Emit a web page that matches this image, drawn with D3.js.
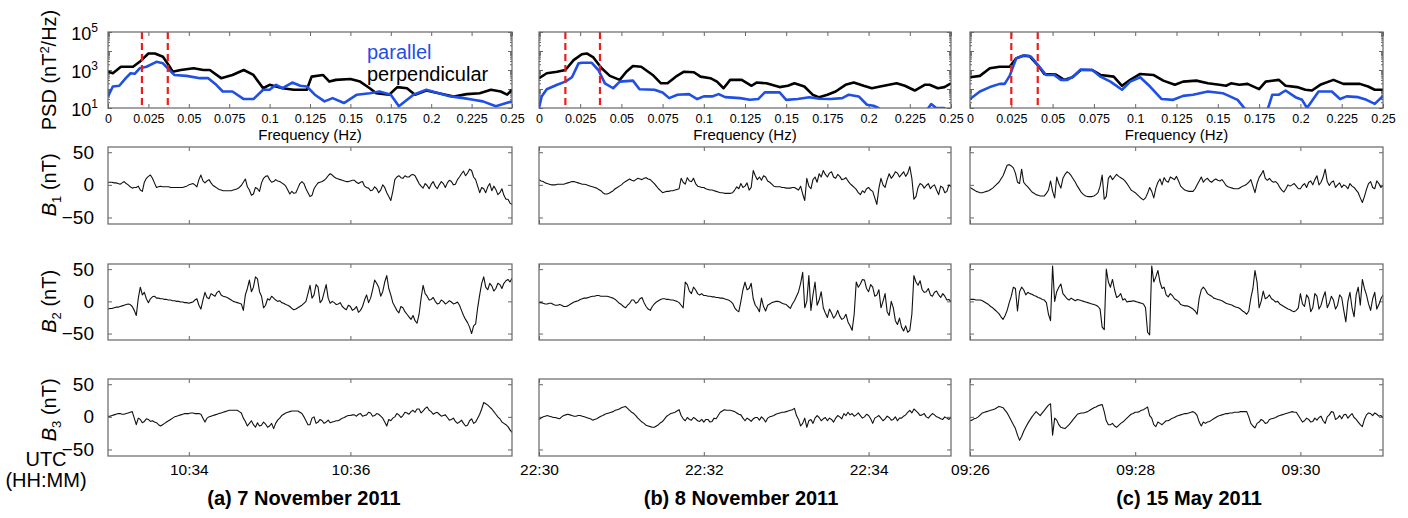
<!DOCTYPE html>
<html>
<head>
<meta charset="utf-8">
<script src="https://cdn.jsdelivr.net/npm/d3@7"></script>
<style>
  body { margin: 0; background: #fff; }
  text { font-family: "Liberation Sans", Arial, Helvetica, sans-serif; }
</style>
</head>
<body>
<div id="chart-area"></div>
<script>
// ---------- data ----------
let panelTitles = ["(a) 7 November 2011", "(b) 8 November 2011", "(c) 15 May 2011"];
let startTimes = ["2011-11-07T10:33:00Z", "2011-11-08T22:30:00Z", "2011-05-15T09:26:00Z"];
let timeTickLabels = [["10:34", "10:36"], ["22:30", "22:32", "22:34"], ["09:26", "09:28", "09:30"]];
let sampleStep = 1.5; // seconds between samples

let freqTicks = [0, 0.025, 0.05, 0.075, 0.1, 0.125, 0.15, 0.175, 0.2, 0.225, 0.25];
let psdTickExps = [1, 3, 5];
let bTicks = [-50, 0, 50];

// band edges (Hz), red dashed lines
let bandA = [0.021, 0.037];
let bandB = [0.016, 0.037];
let bandC = [0.025, 0.041];

// PSD, log10 of nT^2/Hz
let perpFreqA = [0,0.003,0.008,0.0155,0.0196,0.025,0.029,0.034,0.038,0.040,0.045,0.053,0.059,0.063,0.070,0.077,0.084,0.090,0.096,0.100,0.108,0.115,0.123,0.126,0.133,0.137,0.141,0.150,0.156,0.162,0.166,0.174,0.179,0.185,0.190,0.197,0.206,0.214,0.222,0.230,0.237,0.243,0.247,0.25];
let perpLogA = [2.91,2.83,3.17,3.17,3.43,3.87,3.87,3.70,3.2,2.91,3.0,3.09,3.0,3.0,2.57,2.74,3.0,2.74,2.04,2.22,2.04,1.96,1.96,2.65,2.74,2.39,2.48,2.53,2.39,2.04,1.78,1.70,2.1,2.04,1.70,1.92,1.75,1.61,1.73,1.78,1.96,1.87,1.70,1.96];
let parFreqA = [0,0.003,0.007,0.011,0.014,0.0165,0.0196,0.0238,0.030,0.034,0.038,0.041,0.0486,0.057,0.062,0.067,0.071,0.077,0.084,0.090,0.096,0.100,0.104,0.108,0.114,0.119,0.123,0.128,0.134,0.139,0.146,0.154,0.162,0.168,0.175,0.180,0.189,0.197,0.203,0.212,0.220,0.226,0.232,0.240,0.245,0.25];
let parLogA = [1.61,2.13,2.17,2.57,2.83,2.80,3.09,3.17,3.43,3.35,3.0,2.74,2.69,2.57,2.57,2.22,1.87,1.87,1.47,1.47,1.96,1.96,2.22,2.04,2.34,2.17,2.13,1.70,1.35,1.52,1.26,1.70,1.78,1.87,1.70,1.09,1.70,1.96,1.82,1.61,1.52,1.43,1.35,1.09,1.22,1.35];

let perpFreqB = [0,0.0047,0.011,0.016,0.021,0.026,0.029,0.033,0.038,0.043,0.049,0.053,0.057,0.062,0.069,0.074,0.078,0.083,0.088,0.094,0.098,0.104,0.108,0.112,0.116,0.123,0.129,0.132,0.138,0.146,0.151,0.155,0.161,0.166,0.170,0.175,0.180,0.186,0.191,0.197,0.202,0.207,0.217,0.222,0.228,0.234,0.237,0.242,0.246,0.25];
let perpLogB = [2.57,2.83,2.91,3.0,3.52,3.83,3.87,3.66,3.09,2.69,2.48,2.91,3.21,3.17,2.74,2.30,2.30,2.65,2.91,2.88,2.65,2.57,2.39,2.04,2.48,2.48,2.17,2.34,2.30,2.10,2.17,2.30,2.13,1.70,1.56,1.70,1.87,2.22,2.34,2.17,2.04,2.13,2.30,2.17,1.92,2.22,2.22,2.04,2.1,2.30];
let parFreqB = [0,0.0016,0.0047,0.011,0.016,0.020,0.024,0.026,0.032,0.036,0.040,0.045,0.049,0.057,0.061,0.070,0.075,0.079,0.084,0.091,0.096,0.100,0.105,0.109,0.113,0.122,0.128,0.133,0.137,0.146,0.150,0.157,0.164,0.170,0.177,0.184,0.188,0.194,0.199,0.203,0.206,0.210,0.233,0.238,0.241,0.246,0.250];
let parLogB = [1.0,1.61,1.99,2.22,2.39,2.62,3.35,3.38,3.38,3.0,2.30,2.04,2.39,2.44,1.99,1.96,1.82,1.52,1.70,1.73,1.47,1.61,1.61,1.73,1.57,1.52,1.43,1.47,1.82,1.82,1.43,1.47,1.57,1.49,1.47,1.52,1.70,1.61,1.17,1.12,1.0,0.6,0.6,1.21,1.0,1.0,0.6];

let perpFreqC = [0,0.006,0.012,0.018,0.024,0.028,0.032,0.036,0.041,0.045,0.052,0.057,0.062,0.067,0.074,0.079,0.087,0.092,0.097,0.103,0.111,0.117,0.124,0.129,0.137,0.144,0.151,0.155,0.158,0.163,0.168,0.175,0.179,0.187,0.191,0.198,0.203,0.207,0.212,0.220,0.226,0.236,0.241,0.245,0.25];
let perpLogC = [2.62,2.69,3.09,3.17,3.17,3.61,3.75,3.73,3.26,2.79,2.76,2.48,2.62,3.0,3.0,2.74,2.65,2.17,2.48,2.79,2.74,2.44,2.22,2.39,2.44,2.30,2.22,2.17,2.30,2.22,2.27,1.99,2.39,2.48,2.17,2.10,1.96,1.92,2.22,2.48,2.27,2.27,2.13,1.96,1.96];
let parFreqC = [0,0.006,0.012,0.018,0.021,0.024,0.028,0.033,0.037,0.042,0.046,0.051,0.055,0.059,0.063,0.067,0.074,0.079,0.085,0.092,0.097,0.103,0.109,0.116,0.123,0.129,0.135,0.144,0.153,0.162,0.166,0.172,0.179,0.183,0.187,0.191,0.197,0.201,0.204,0.211,0.219,0.224,0.228,0.235,0.240,0.245,0.25];
let parLogC = [1.47,1.87,2.10,2.27,2.27,2.69,3.61,3.78,3.70,3.17,2.74,2.74,2.48,2.48,2.69,3.03,3.0,2.65,2.39,1.96,2.39,2.62,2.13,1.47,1.43,1.64,1.70,1.87,1.78,1.43,1.0,0.5,0.6,1.70,1.70,1.92,1.57,1.43,1.0,1.87,1.87,1.47,1.61,1.57,1.43,1.22,1.64];

// magnetic field components (nT), one sample every 1.5 s, 5 minutes per panel
let b1A = [4,4,4,3,3,2,1,3,5,2,0,-3,-5,-4,-4,-2,-8,-10,4,10,
  13,15,10,3,-4,-3,-2,-3,-3,-3,-3,-4,-4,-4,-4,-4,-4,-4,-3,-2,
  0,1,2,0,-3,8,15,6,3,6,8,3,-1,-3,-5,-7,-8,-9,-9,-9,
  -9,-9,-8,-7,-6,-4,-1,4,9,-3,-8,-16,-14,-4,-6,-10,3,10,13,14,
  8,4,5,8,6,5,3,1,-2,-8,-14,-10,-13,-12,-5,2,5,2,-6,-12,
  -18,-16,-6,-1,3,4,5,7,10,14,17,15,12,10,9,8,7,6,5,5,
  6,7,7,4,2,4,5,-2,-4,-5,-9,-8,-3,-6,-12,-8,0,-4,-12,-18,
  -24,-10,8,12,14,11,10,14,12,12,15,16,14,8,2,-2,-5,2,-1,-6,
  1,5,-2,-6,0,5,2,-4,3,7,5,0,1,8,12,17,21,14,18,24,
  22,12,8,-2,-12,-4,-6,-12,-3,2,-9,-2,-7,-15,-12,-6,-16,-22,-22,-28,
  -30];
let b2A = [-12,-11,-11,-10,-9,-9,-8,-7,-6,-5,-4,-5,-8,-14,-22,5,22,10,14,4,
  -2,4,7,8,5,5,4,4,3,3,2,2,1,1,0,0,-1,-1,-2,-2,
  -3,-2,-1,2,4,-6,-12,2,14,6,4,12,10,8,14,16,10,8,7,6,
  4,2,0,-1,-2,-3,-4,-14,10,20,33,15,22,38,35,15,8,-10,-6,4,
  2,8,5,2,0,1,-2,-3,-5,-6,-8,-11,-13,-12,-10,-8,-6,-3,0,12,
  25,5,10,26,22,-2,2,14,26,5,-3,0,-2,-5,-4,-2,-8,-11,-13,-6,
  -8,-14,-12,-8,-17,-14,-8,2,10,-2,5,18,33,28,22,8,15,30,40,20,
  10,-2,-8,-14,-18,-8,-10,-16,-20,-24,-28,-22,-30,-34,-20,5,25,12,8,2,
  3,6,0,-4,-3,2,0,-4,-2,1,-1,-4,-3,-1,-6,-14,-22,-28,-33,-40,
  -50,-38,-35,-10,10,28,38,22,18,28,24,16,20,28,26,20,28,32,34,30,
  36];
let b3A = [1,1,2,3,4,5,5,4,4,5,6,7,8,-2,-12,-2,-4,-9,-7,-3,
  -4,-7,-6,-8,-9,-12,-14,-12,-10,-8,-6,-4,-2,0,1,2,3,4,5,5,
  5,6,6,5,5,5,4,-2,-8,-2,0,1,2,3,4,5,6,7,8,9,
  10,10,10,10,10,8,6,-2,-7,-14,-10,-6,-12,-16,-9,-14,-13,-8,-11,-16,
  -14,-10,-18,-10,-5,-2,2,4,6,7,8,9,9,9,9,7,5,0,-6,-12,
  -12,-2,0,-10,-8,-4,-6,-10,-8,-5,-9,-8,-7,-6,-6,-4,-2,-1,1,2,
  2,3,3,1,4,5,1,2,3,7,6,1,2,5,4,1,-2,-8,-14,-4,
  -6,-2,0,5,3,-1,2,7,6,4,8,10,7,12,12,6,9,13,15,10,
  8,4,6,7,4,1,2,3,-1,-5,-4,-2,-7,-10,-8,-5,-10,-14,-13,-6,
  -3,-10,-8,-2,4,12,22,20,18,15,12,8,4,0,-3,-8,-10,-12,-15,-20,
  -24];

let b1B = [8,6,5,3,2,1,0,0,0,1,1,1,1,2,3,4,5,5,4,3,
  2,1,1,0,-1,-2,-3,-4,-5,-7,-9,-12,-14,-14,-13,-11,-9,-6,-4,-2,
  0,3,5,7,9,7,6,8,10,9,8,10,11,9,8,5,2,-2,-6,-9,
  -12,-11,-10,-10,-9,-9,-8,-7,-6,10,4,1,11,6,5,10,2,-2,-3,-4,
  -4,-6,-7,-8,-8,-9,-10,-11,-12,-12,-13,-13,-13,-13,-12,-8,-3,-6,2,-4,
  -2,3,-8,-4,22,14,8,12,7,14,12,6,4,1,-2,-3,-3,-3,-4,-4,
  -5,-5,-5,-4,-4,-6,-8,-2,-14,-24,10,-2,-6,8,12,4,17,12,22,16,
  12,18,20,12,10,16,13,8,9,11,6,2,-1,-4,-7,-12,-15,-9,-12,-6,
  -4,-8,-10,-20,-30,-5,10,0,-4,8,17,10,14,20,18,12,16,20,13,18,
  28,10,-22,-18,-4,2,0,-5,-1,2,-6,-2,0,-8,-15,-2,-4,-12,-10,0,
  -3];
let b2B = [-2,-2,-3,-4,-4,-3,-3,-5,-6,-6,-5,-6,-8,-8,-7,-5,-3,-1,0,1,
  3,4,5,5,6,7,8,8,9,9,8,8,8,8,7,6,5,3,0,-3,
  -5,-8,-10,-6,-3,2,2,-3,-1,4,6,-2,-8,-12,-14,-8,-4,-1,1,3,
  4,4,3,3,2,2,1,0,-2,-6,-10,30,26,16,12,22,18,12,10,12,
  9,9,8,8,7,7,6,6,5,5,4,3,2,0,-3,-10,-14,-16,0,18,
  30,18,20,28,4,-6,-10,-16,5,-8,-15,-6,-4,-2,-1,0,0,-1,-3,-4,
  -5,-8,-11,-4,1,8,15,28,45,-10,0,40,-14,10,30,-6,2,15,-10,-18,
  -25,-12,-18,-26,-22,-14,-23,-28,-26,-20,-32,-38,-45,-20,30,22,27,34,33,20,
  15,26,22,8,10,18,-10,0,12,-16,-22,0,-10,-30,-36,-26,-40,-46,-38,-48,
  -45,-20,40,30,25,32,18,14,15,20,10,8,14,16,10,6,12,8,2,3,
  -1];
let b3B = [-4,-2,0,1,2,1,0,-1,-1,-2,-3,0,2,3,4,3,2,1,1,2,
  2,1,0,-1,-2,-3,-5,-4,-3,-1,1,2,4,5,6,7,8,10,11,12,
  14,15,16,13,10,7,5,2,-2,-5,-8,-10,-13,-14,-15,-16,-16,-14,-12,-9,
  -7,-3,1,3,5,6,7,9,11,2,-3,-6,-1,-4,-5,-1,-3,-6,-7,-4,
  -8,-4,-4,-8,-7,-2,-3,2,7,9,11,10,10,10,9,8,6,4,3,-2,
  -6,-2,-4,-7,-3,-1,-1,-5,0,-3,-8,-2,0,1,2,4,5,6,7,7,
  8,9,10,11,13,2,-4,-14,-10,-2,-16,-6,-4,-10,-2,2,-1,-6,-3,-1,
  -6,-2,-4,-8,-2,2,0,-3,5,2,7,3,5,1,3,6,2,-2,0,4,
  2,-3,-10,-2,0,2,-2,-6,-3,1,-1,-5,-4,0,-6,-2,-2,1,3,7,
  10,6,12,9,6,2,3,5,0,-2,2,5,3,0,-1,-3,-4,0,-2,-4,
  -1];

let b1C = [-4,-6,-8,-10,-11,-12,-12,-11,-10,-9,-7,-5,-2,1,4,9,14,22,30,31,
  29,26,18,4,2,24,4,0,-3,-7,-11,-13,-15,-16,-17,-17,-17,-13,-8,6,
  -10,-20,12,2,-5,10,16,20,18,14,9,4,-2,-7,-12,-15,-17,-18,-18,-18,
  -17,-15,-12,-2,15,-22,-18,10,14,8,12,16,13,11,9,6,2,-3,-8,-10,
  -12,-15,-18,-21,-23,-20,-13,-4,-10,-20,-5,4,9,0,11,6,4,12,10,8,
  13,6,-2,-5,-8,-9,-10,-10,-10,-6,0,6,12,4,8,10,6,4,7,9,
  7,6,8,4,-1,-3,-4,-5,-6,-6,-6,-4,-2,-1,1,4,8,-2,-12,2,
  11,16,22,10,7,10,6,4,5,2,-4,-8,-11,-6,0,-2,0,2,-2,-6,
  -6,-1,2,-4,4,6,0,8,14,0,4,12,24,5,-1,4,6,-4,0,3,
  -4,0,-2,-6,2,-2,-4,-8,-12,-20,-27,-18,-7,2,5,-4,-6,6,2,-4,
  -1];
let b2C = [3,3,3,2,2,2,1,-1,-3,-5,-8,-10,-13,-16,-19,-24,-28,-22,-14,-2,
  8,22,20,-15,15,22,18,10,14,12,11,9,8,6,5,3,2,-2,-20,-30,
  55,0,15,22,27,12,8,4,2,5,3,1,3,2,1,0,-1,-2,-3,-4,
  -5,-6,-8,-12,-40,-44,50,30,22,34,18,6,8,12,2,4,-1,0,0,1,
  0,-1,-2,-3,-4,-10,-48,-52,55,30,38,48,30,20,22,10,7,12,9,4,
  2,0,-5,-6,-7,-7,-8,-10,-12,-15,-20,5,18,22,18,12,10,8,5,4,
  3,2,1,-1,-3,-4,-5,-6,-8,-9,-10,-12,-15,-17,-20,-15,5,20,48,30,
  -10,0,16,4,6,10,4,2,-1,0,-4,-6,-8,-10,-12,-13,-15,-16,-14,-10,
  12,-4,-8,10,5,-16,-10,12,8,-12,-6,6,15,-10,-3,8,2,-12,-6,10,
  6,-14,-32,0,14,-10,-24,10,22,-6,34,20,10,-4,-14,4,14,-12,-5,4,
  10];
let b3C = [-6,-5,-3,-2,0,3,6,7,8,9,10,11,12,14,16,15,14,10,6,0,
  -6,-12,-18,-28,-36,-30,-22,-16,-10,-5,0,4,8,5,2,6,10,14,18,20,
  -28,-2,-5,-12,-16,-17,-18,-15,-12,-8,-4,0,4,5,6,6,7,8,10,12,
  14,15,17,18,19,8,-6,-12,-12,-10,-14,-16,-13,-10,-8,-5,-2,1,4,5,
  7,7,8,10,11,13,15,2,-2,-12,-15,-8,-10,-12,-9,-6,-6,-4,-2,-1,
  1,2,3,4,5,5,6,7,8,6,2,-8,-14,-8,-10,-8,-7,-5,-3,-1,
  1,2,3,4,5,5,6,6,7,7,7,8,8,8,8,0,-10,-14,-17,-10,
  -8,-4,-6,-10,-9,-4,-3,-2,-1,1,2,3,4,5,6,7,8,7,7,2,
  -3,-8,-6,-2,-4,-8,-7,-2,-5,-1,1,-6,-10,0,3,8,7,-4,-2,2,
  -3,3,4,-2,2,5,-1,-4,-8,-12,-15,-4,3,6,5,2,6,4,1,2,
  -1];

// ---------- layout ----------
let width = 1408, height = 518;
let colX = [[108, 512], [539, 951], [970, 1383]];
let psdRow = [32, 108];
let bRows = [[147, 224], [264, 340], [379, 456]];
let bLabelShift = [0, 0, -7];
let titleX = [304, 741, 1189];
let frameColor = "#666";
let blue = "#1f4fe6";

let columns = [
  { perp: [perpFreqA, perpLogA], par: [parFreqA, parLogA], band: bandA, b: [b1A, b2A, b3A] },
  { perp: [perpFreqB, perpLogB], par: [parFreqB, parLogB], band: bandB, b: [b1B, b2B, b3B] },
  { perp: [perpFreqC, perpLogC], par: [parFreqC, parLogC], band: bandC, b: [b1C, b2C, b3C] }
];

let svg = d3.select("#chart-area")
  .append("svg")
    .attr("width", width)
    .attr("height", height);

svg.append("rect").attr("width", width).attr("height", height).attr("fill", "#fff");
let defs = svg.append("defs");

function styleAxis(g, fontSize) {
  g.select(".domain").remove();
  g.selectAll(".tick line").attr("stroke", frameColor);
  g.selectAll(".tick text").attr("fill", "#000").attr("font-size", fontSize);
}

function addClip(id, x0, x1, y0, y1) {
  defs.append("clipPath").attr("id", id)
    .append("rect").attr("x", x0).attr("y", y0).attr("width", x1 - x0).attr("height", y1 - y0);
}

function frame(x0, x1, y0, y1) {
  svg.append("rect")
    .attr("x", x0).attr("y", y0)
    .attr("width", x1 - x0).attr("height", y1 - y0)
    .attr("fill", "none")
    .attr("stroke", frameColor)
    .attr("stroke-width", 1.2);
}

// ---------- PSD panels ----------
function psdPanel(col, ci) {
  let x0 = colX[ci][0], x1 = colX[ci][1];
  let x = d3.scaleLinear().domain([0, 0.25]).range([x0, x1]);
  let y = d3.scaleLog().domain([10, 1e5]).range([psdRow[1], psdRow[0]]);

  let clipId = "clip-psd-" + ci;
  addClip(clipId, x0, x1, psdRow[0], psdRow[1]);

  // axes (inward ticks on all four sides)
  let xb = svg.append("g").attr("transform", "translate(0," + psdRow[1] + ")")
    .call(d3.axisBottom(x).tickValues(freqTicks).tickSize(-4).tickPadding(6)
      .tickFormat(d => String(+d.toFixed(3))));
  styleAxis(xb, "12.5px");
  let xt = svg.append("g").attr("transform", "translate(0," + psdRow[0] + ")")
    .call(d3.axisTop(x).tickValues(freqTicks).tickSize(-4).tickFormat(""));
  styleAxis(xt);

  let decades = psdTickExps.concat([2, 4]).map(e => Math.pow(10, e));
  let minor = y.ticks().filter(v => decades.indexOf(v) < 0);
  [[d3.axisLeft, x0], [d3.axisRight, x1]].forEach(function(a) {
    let gm = svg.append("g").attr("transform", "translate(" + a[1] + ",0)")
      .call(a[0](y).tickValues(decades).tickSize(-4).tickFormat(""));
    styleAxis(gm);
    let gn = svg.append("g").attr("transform", "translate(" + a[1] + ",0)")
      .call(a[0](y).tickValues(minor).tickSize(-2).tickFormat(""));
    styleAxis(gn);
  });

  svg.append("text")
    .attr("x", x(0.125)).attr("y", 140)
    .attr("text-anchor", "middle")
    .attr("font-size", "15px")
    .text("Frequency (Hz)");

  let line = d3.line()
    .x(d => x(d[0]))
    .y(d => y(Math.pow(10, d[1])));

  let gl = svg.append("g").attr("clip-path", "url(#" + clipId + ")");
  gl.append("path")
    .datum(d3.zip(col.perp[0], col.perp[1]))
    .attr("d", line).attr("fill", "none")
    .attr("stroke", "#000").attr("stroke-width", 2.6).attr("stroke-linejoin", "round");
  gl.append("path")
    .datum(d3.zip(col.par[0], col.par[1]))
    .attr("d", line).attr("fill", "none")
    .attr("stroke", blue).attr("stroke-width", 2.6).attr("stroke-linejoin", "round");

  gl.selectAll(".band")
    .data(col.band)
    .enter()
    .append("line")
    .attr("class", "band")
    .attr("x1", d => x(d)).attr("x2", d => x(d))
    .attr("y1", psdRow[0]).attr("y2", psdRow[1])
    .attr("stroke", "#ee1c1c").attr("stroke-width", 2.2)
    .attr("stroke-dasharray", "7,4");

  frame(x0, x1, psdRow[0], psdRow[1]);

  if (ci === 0) {
    psdTickExps.forEach(function(e) {
      let t = svg.append("text")
        .attr("x", x0 - 10).attr("y", y(Math.pow(10, e)) + 8)
        .attr("text-anchor", "end")
        .attr("font-size", "18px");
      t.append("tspan").text("10");
      t.append("tspan").attr("font-size", "12px").attr("dy", -8).text(e);
    });

    // legend
    svg.append("text").attr("x", 367).attr("y", 59)
      .attr("font-size", "20px").attr("fill", blue).text("parallel");
    svg.append("text").attr("x", 367).attr("y", 81)
      .attr("font-size", "20px").attr("fill", "#000").text("perpendicular");
  }
}

// ---------- field component panels ----------
function bPanel(values, ci, ri) {
  let x0 = colX[ci][0], x1 = colX[ci][1];
  let yr = bRows[ri];
  let start = new Date(startTimes[ci]);
  let day = startTimes[ci].slice(0, 11);
  let x = d3.scaleUtc().domain([start, d3.utcMinute.offset(start, 5)]).range([x0, x1]);
  let y = d3.scaleLinear().domain([-60, 58]).range([yr[1], yr[0]]);
  let tickDates = timeTickLabels[ci].map(s => new Date(day + s + ":00Z"));

  let clipId = "clip-b-" + ci + "-" + ri;
  addClip(clipId, x0, x1, yr[0], yr[1]);

  let xb = svg.append("g").attr("transform", "translate(0," + yr[1] + ")")
    .call(d3.axisBottom(x).tickValues(tickDates).tickSize(-4).tickPadding(8)
      .tickFormat(ri === 2 ? d3.utcFormat("%H:%M") : ""));
  styleAxis(xb, "15.5px");
  let xt = svg.append("g").attr("transform", "translate(0," + yr[0] + ")")
    .call(d3.axisTop(x).tickValues(tickDates).tickSize(-4).tickFormat(""));
  styleAxis(xt);

  let yl = svg.append("g").attr("transform", "translate(" + x0 + ",0)")
    .call(d3.axisLeft(y).tickValues(bTicks).tickSize(-4).tickPadding(14)
      .tickFormat(ci === 0 ? d3.format("d") : ""));
  styleAxis(yl, "19px");
  let yrr = svg.append("g").attr("transform", "translate(" + x1 + ",0)")
    .call(d3.axisRight(y).tickValues(bTicks).tickSize(-4).tickFormat(""));
  styleAxis(yrr);

  let line = d3.line()
    .x((d, i) => x(new Date(start.getTime() + i * sampleStep * 1000)))
    .y(d => y(d));

  svg.append("g").attr("clip-path", "url(#" + clipId + ")")
    .append("path")
    .datum(values)
    .attr("d", line)
    .attr("fill", "none")
    .attr("stroke", "#111")
    .attr("stroke-width", 1.1)
    .attr("stroke-linejoin", "round");

  frame(x0, x1, yr[0], yr[1]);

  if (ci === 0) {
    let cy = y(0) + bLabelShift[ri];
    let t = svg.append("text")
      .attr("transform", "translate(56," + cy + ") rotate(-90)")
      .attr("text-anchor", "middle")
      .attr("font-size", "20px");
    t.append("tspan").attr("font-style", "italic").text("B");
    t.append("tspan").attr("font-size", "13px").attr("dy", 5).text(ri + 1);
    t.append("tspan").attr("dy", -5).text(" (nT)");
  }
}

columns.forEach(function(col, ci) {
  psdPanel(col, ci);
  col.b.forEach(function(values, ri) {
    bPanel(values, ci, ri);
  });
  svg.append("text")
    .attr("x", titleX[ci]).attr("y", 505)
    .attr("text-anchor", "middle")
    .attr("font-size", "20px")
    .attr("font-weight", "bold")
    .text(panelTitles[ci]);
});

// left labels
let psdLabel = svg.append("text")
  .attr("transform", "translate(56,70) rotate(-90)")
  .attr("text-anchor", "middle")
  .attr("font-size", "20px");
psdLabel.append("tspan").text("PSD (nT");
psdLabel.append("tspan").attr("font-size", "13px").attr("dy", -7).text("2");
psdLabel.append("tspan").attr("dy", 7).text("/Hz)");

svg.append("text").attr("x", 46).attr("y", 466)
  .attr("text-anchor", "middle").attr("font-size", "20px").text("UTC");
svg.append("text").attr("x", 46).attr("y", 487)
  .attr("text-anchor", "middle").attr("font-size", "20px").text("(HH:MM)");
</script>
</body>
</html>
